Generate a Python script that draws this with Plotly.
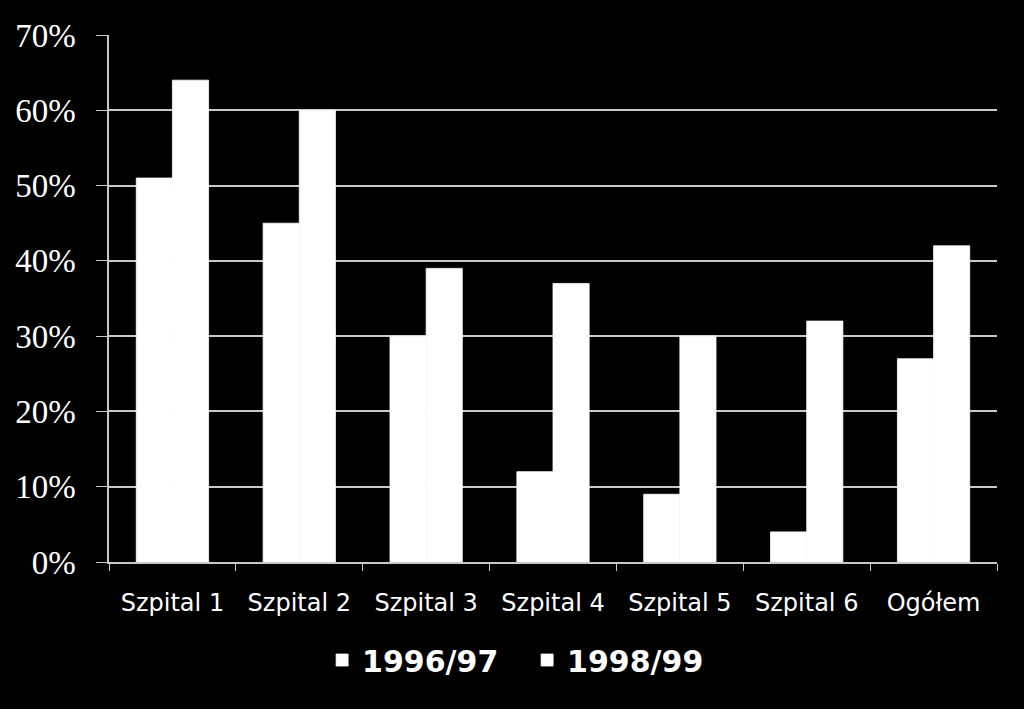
import plotly.graph_objects as go

categories = ["Szpital 1", "Szpital 2", "Szpital 3", "Szpital 4", "Szpital 5", "Szpital 6", "Ogółem"]
series_names = ["1996/97", "1998/99"]
values_9697 = [51, 45, 30, 12, 9, 4, 27]
values_9899 = [64, 60, 39, 37, 30, 32, 42]
y_tickvals = [0, 10, 20, 30, 40, 50, 60, 70]
y_ticktext = [f"{v}%" for v in y_tickvals]

fig = go.Figure()
for name, vals in zip(series_names, [values_9697, values_9899]):
    fig.add_trace(go.Bar(x=categories, y=vals, name=name,
                         marker=dict(color="white", line=dict(width=0.8, color="white"))))

fig.update_layout(
    width=1024, height=709,
    paper_bgcolor="black", plot_bgcolor="black",
    margin=dict(l=109, r=27, t=35, b=147),
    barmode="group", bargap=0.43, bargroupgap=0,
    showlegend=True,
    legend=dict(orientation="h", x=0.24, xanchor="left", y=-0.186, yanchor="middle",
                font=dict(family="DejaVu Sans, sans-serif", size=30, color="white", weight="bold"),
                itemwidth=30, entrywidth=160, bgcolor="rgba(0,0,0,0)"),
    font=dict(color="white"),
)
fig.update_xaxes(
    showline=True, linecolor="#c8c8c8", linewidth=1.5,
    ticks="outside", tickson="boundaries", ticklen=7, tickcolor="#c8c8c8",
    tickfont=dict(family="DejaVu Sans, sans-serif", size=24, color="white"),
    ticklabelstandoff=18,
    showgrid=False,
)
fig.update_yaxes(
    range=[0, 70], tickvals=y_tickvals, ticktext=y_ticktext,
    showline=True, linecolor="#c8c8c8", linewidth=1.5,
    ticks="outside", ticklen=11, tickcolor="#c8c8c8",
    showgrid=True, gridcolor="#c8c8c8", gridwidth=1.5,
    tickfont=dict(family="Liberation Serif, serif", size=33, color="white"),
    ticklabelstandoff=14,
    zeroline=False,
)
fig.write_html("out.html", config={"displayModeBar": False},
               post_script="document.body.style.margin='0';document.body.style.background='black';")
